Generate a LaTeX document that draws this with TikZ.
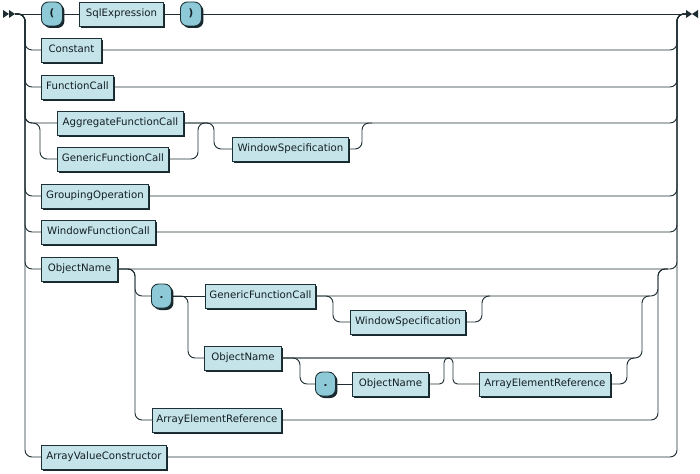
\documentclass[tikz,border=0pt]{standalone}
\usepackage{fontspec}
\setmainfont{DejaVu Sans}
\usetikzlibrary{shadows}
\definecolor{linecol}{RGB}{30,45,50}
\definecolor{ntfill}{RGB}{196,228,234}
\definecolor{tfill}{RGB}{141,201,214}
\definecolor{bordcol}{RGB}{28,48,54}
\definecolor{shcol}{RGB}{22,40,45}
\definecolor{txtcol}{RGB}{20,30,35}
\tikzset{
  boxbase/.style={draw=bordcol, line width=0.9pt, minimum height=24pt, inner xsep=0pt, anchor=west,
    text=txtcol, font=\fontsize{10.2}{12}\selectfont, text height=7.6pt, text depth=2pt,
    drop shadow={shadow xshift=2pt, shadow yshift=-2pt, fill=shcol, opacity=1}},
  nt/.style={boxbase, rectangle, fill=ntfill},
  term/.style={boxbase, rectangle, rounded corners=7pt, fill=tfill},
  rr/.style={draw=linecol, line width=0.95pt, rounded corners=7pt},
  rrs/.style={draw=linecol, line width=0.95pt, rounded corners=4.5pt},
}
\begin{document}
\begin{tikzpicture}[x=1pt,y=-1pt]
\useasboundingbox (0,0) rectangle (700,473);
% start / end markers
\fill[linecol] (3,10) -- (9,14) -- (3,18) -- cycle;
\fill[linecol] (9,10) -- (15,14) -- (9,18) -- cycle;
\fill[linecol] (686,10) -- (692,14) -- (686,18) -- cycle;
\fill[linecol] (698,10) -- (692,14) -- (698,18) -- cycle;
\coordinate (S) at (15,14);
\coordinate (E) at (686,14);
\coordinate (Lx) at (25,14);
\coordinate (Rx) at (677,14);
\coordinate (G1) at (40,0);
\coordinate (M1) at (198,0);
\coordinate (W1) at (214,0);
\coordinate (W2) at (362,0);
\coordinate (B1) at (135,0);
\coordinate (B2) at (188,0);
\coordinate (B3) at (333,0);
\coordinate (B4) at (300,0);
\coordinate (B5) at (453,0);
\coordinate (C1) at (658,0);
\coordinate (C2) at (642,0);
\coordinate (C3) at (482,0);
\coordinate (C4) at (444,0);
\coordinate (C5) at (627,0);

% nodes
\node[term, minimum width=21pt] (lp) at (41,14) {\textbf{(}};
\node[nt, minimum width=84pt] (sql) at (79,14) {SqlExpression};
\node[term, minimum width=21pt] (rp) at (180,14) {\textbf{)}};
\node[nt, minimum width=60pt] (const) at (41,50) {Constant};
\node[nt, minimum width=72pt] (fcall) at (41,87) {FunctionCall};
\node[nt, minimum width=126pt] (agg) at (57,123) {AggregateFunctionCall};
\node[nt, minimum width=111pt] (gen1) at (57,159) {GenericFunctionCall};
\node[nt, minimum width=116pt] (win1) at (232,149) {WindowSpecification};
\node[nt, minimum width=107pt] (group) at (41,196) {GroupingOperation};
\node[nt, minimum width=114pt] (wfc) at (41,232) {WindowFunctionCall};
\node[nt, minimum width=76pt] (on1) at (41,269) {ObjectName};
\node[term, minimum width=20pt] (dot1) at (151,296) {\textbf{.}};
\node[nt, minimum width=110pt] (gen2) at (205,296) {GenericFunctionCall};
\node[nt, minimum width=115pt] (win2) at (350,322) {WindowSpecification};
\node[nt, minimum width=77pt] (on2) at (204,358) {ObjectName};
\node[term, minimum width=20pt] (dot2) at (315,384) {\textbf{.}};
\node[nt, minimum width=76pt] (on3) at (352,384) {ObjectName};
\node[nt, minimum width=131pt] (aer2) at (479,384) {ArrayElementReference};
\node[nt, minimum width=129pt] (aer1) at (152,420) {ArrayElementReference};
\node[nt, minimum width=125pt] (avc) at (41,457) {ArrayValueConstructor};

% top row
\draw[rr] (S) -- (lp.west);
\draw[rr] (lp.east) -- (sql.west);
\draw[rr] (sql.east) -- (rp.west);
\draw[rr] (rp.east) -- (E);

% simple rows
\foreach \n in {const,fcall,group,wfc,on1,avc}{
  \draw[rr] (S) -| (Lx |- \n.west) -- (\n.west);
  \draw[rr] (\n.east) -| (Rx) -- (E);
}

% aggregate / generic + window
\draw[rr] (S) -| (Lx |- agg.west) -- (agg.west);
\draw[rr] (S) -| (Lx |- agg.west) -| (G1 |- gen1.west) -- (gen1.west);
\draw[rr] (agg.east) -| (Rx) -- (E);
\draw[rr] (gen1.east) -| (M1 |- agg.east) -- ++(10,0);
\draw[rr] (agg.east) -| (W1 |- win1.west) -- (win1.west);
\draw[rr] (win1.east) -| (W2 |- agg.east) -- ++(10,0);

% object name block
\draw[rr] (on1.east) -| (B1 |- dot1.west) -- (dot1.west);
\draw[rr] (on1.east) -| (B1 |- aer1.west) -- (aer1.west);
\draw[rr] (aer1.east) -| (C1 |- on1.east) -- ++(10,0);
\draw[rr] (dot1.east) -- (gen2.west);
\draw[rr] (dot1.east) -| (B2 |- on2.west) -- (on2.west);
\draw[rr] (gen2.east) -| (C1 |- on1.east) -- ++(10,0);
\draw[rr] (gen2.east) -| (B3 |- win2.west) -- (win2.west);
\draw[rr] (win2.east) -| (C3 |- gen2.east) -- ++(8,0);
\draw[rr] (on2.east) -| (C2 |- gen2.east) -- ++(8,0);
\draw[rr] (on2.east) -| (B4 |- dot2.west) -- (dot2.west);
\draw[rr] (dot2.east) -- (on3.west);
\draw[rrs] (on3.east) -| (C4 |- on2.east) -- ++(6,0);
\draw[rrs] (on2.east) -| (B5 |- aer2.west) -- (aer2.west);
\draw[rr] (aer2.east) -| (C5 |- on2.east) -- ++(8,0);
\end{tikzpicture}
\end{document}
